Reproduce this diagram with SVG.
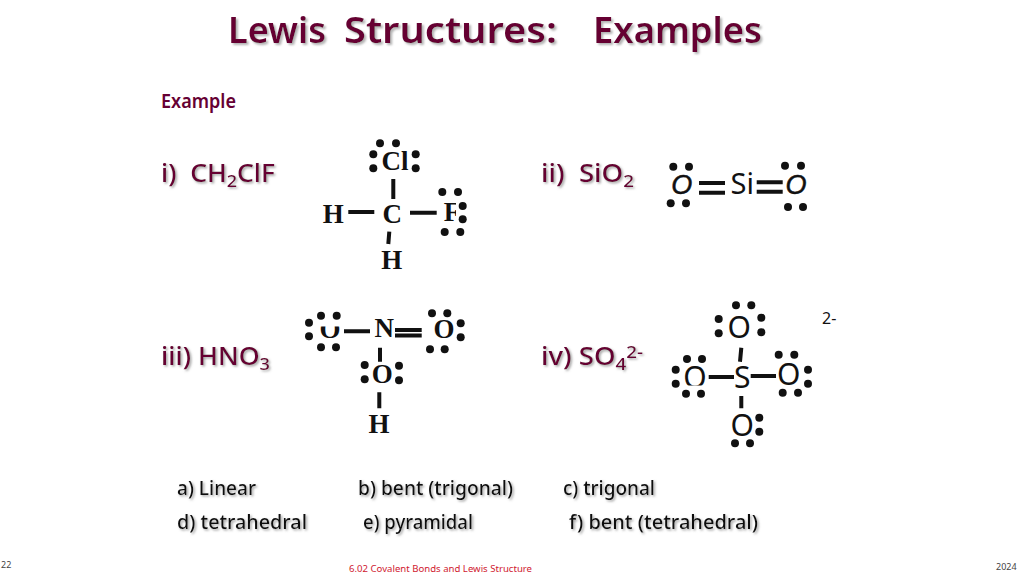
<svg xmlns="http://www.w3.org/2000/svg" width="1024" height="576" viewBox="0 0 1024 576">
<style>
text{font-family:"Noto Sans","DejaVu Sans",sans-serif}
.title{font-size:36px;font-weight:600;fill:#660033;filter:url(#sh)}
.head{font-size:19px;font-weight:600;fill:#660033}
.formula{font-size:25px;font-weight:500;fill:#660033;filter:url(#sh2)}
.ans{font-size:19px;font-weight:500;fill:#111;filter:url(#sh2)}
.foot{font-size:9px;fill:#444}
.ser{font-family:"Liberation Serif",serif;font-size:27px;font-weight:700;fill:#111;text-anchor:middle}
.san{font-family:"Noto Sans",sans-serif;font-size:30px;fill:#111;text-anchor:middle}
.ita{font-family:"Liberation Sans",sans-serif;font-size:27px;font-style:italic;stroke:#111;stroke-width:.5px;fill:#111;text-anchor:middle}
.dot{fill:#111}
.bond{stroke:#111;stroke-width:4;fill:none}
</style>
<defs>
<filter id="sh" x="-5%" y="-20%" width="110%" height="150%"><feDropShadow dx="2" dy="2" stdDeviation="1" flood-color="#aaa" flood-opacity="0.9"/></filter>
<filter id="sh2" x="-5%" y="-20%" width="110%" height="150%"><feDropShadow dx="1.5" dy="1.5" stdDeviation="0.8" flood-color="#999" flood-opacity="0.9"/></filter>
<clipPath id="clipF"><rect x="430" y="190" width="26" height="40"/></clipPath>
<clipPath id="clipU"><rect x="310" y="326.5" width="40" height="20"/></clipPath>
<clipPath id="clipOL"><rect x="675" y="360" width="40" height="25.5"/></clipPath>
</defs>
<rect width="1024" height="576" fill="#fff"/>

<g id="labels">
<text class="title" y="43"><tspan x="228" textLength="98" lengthAdjust="spacingAndGlyphs">Lewis</tspan> <tspan x="344" textLength="213" lengthAdjust="spacingAndGlyphs">Structures:</tspan> <tspan x="593" textLength="169" lengthAdjust="spacingAndGlyphs">Examples</tspan></text>
<text class="head" x="161" y="108" textLength="75" lengthAdjust="spacingAndGlyphs">Example</text>
<text class="formula" x="161" y="182" textLength="114" lengthAdjust="spacingAndGlyphs" xml:space="preserve">i)  CH<tspan font-size="17" dy="5">2</tspan><tspan dy="-5">ClF</tspan></text>
<text class="formula" x="541" y="182" textLength="93" lengthAdjust="spacingAndGlyphs" xml:space="preserve">ii)  SiO<tspan font-size="17" dy="5">2</tspan></text>
<text class="formula" x="161" y="365" textLength="109" lengthAdjust="spacingAndGlyphs">iii) HNO<tspan font-size="17" dy="5">3</tspan></text>
<text class="formula" x="541" y="365" textLength="102" lengthAdjust="spacingAndGlyphs">iv) SO<tspan font-size="17" dy="5">4</tspan><tspan font-size="17" dy="-12">2-</tspan></text>
<text class="ans" x="177" y="495" textLength="79" lengthAdjust="spacingAndGlyphs">a) Linear</text>
<text class="ans" x="358" y="495" textLength="155" lengthAdjust="spacingAndGlyphs">b) bent (trigonal)</text>
<text class="ans" x="563" y="495" textLength="92" lengthAdjust="spacingAndGlyphs">c) trigonal</text>
<text class="ans" x="177" y="529" textLength="130" lengthAdjust="spacingAndGlyphs">d) tetrahedral</text>
<text class="ans" x="363" y="529" textLength="110" lengthAdjust="spacingAndGlyphs">e) pyramidal</text>
<text class="ans" x="569" y="529" textLength="189" lengthAdjust="spacingAndGlyphs">f) bent (tetrahedral)</text>
<text x="822" y="324" font-size="16" fill="#111">2-</text>
<text class="foot" x="1" y="568">22</text>
<text class="foot" x="349" y="572" style="fill:#d02030" textLength="183" lengthAdjust="spacingAndGlyphs">6.02 Covalent Bonds and Lewis Structure</text>
<text class="foot" x="996" y="570">2024</text>
</g>

<g id="connectors">
<path class="bond" d="M393.3 179V199M348.3 212H374.3M410 212.7H436.7M389.3 231.7L388.3 244"/>
<path class="bond" d="M699 183H725M699 192.7H725M756.7 182.3H782.7M756.7 191.7H782.7"/>
<path class="bond" d="M344 331.3H370M395 330H421.7M395 335.5H421.7M380 347.7V361.7M379.3 392.3V408.3"/>
<path class="bond" d="M741.3 347.7L740 361.7M708.7 377H734M750.7 376H776M741.3 396V408.3"/>
</g>

<g id="ch2clf-cl"><text class="ser" x="395" y="170">Cl</text>
<circle class="dot" cx="380" cy="143.3" r="4"/><circle class="dot" cx="396" cy="143.3" r="4"/><circle class="dot" cx="373.3" cy="154.3" r="4"/><circle class="dot" cx="373.3" cy="168.3" r="4"/><circle class="dot" cx="415.7" cy="154.3" r="4"/><circle class="dot" cx="415.7" cy="168.3" r="4"/></g>
<g id="ch2clf-h1"><text class="ser" x="333.3" y="222.7">H</text></g>
<g id="ch2clf-c"><text class="ser" x="392.3" y="222.7">C</text></g>
<g id="ch2clf-f"><text class="ser" x="452" y="220.7" clip-path="url(#clipF)">F</text>
<circle class="dot" cx="442.3" cy="192" r="4"/><circle class="dot" cx="458" cy="192" r="4"/><circle class="dot" cx="462.7" cy="206" r="4"/><circle class="dot" cx="462.7" cy="219.3" r="4"/><circle class="dot" cx="444.7" cy="232" r="4"/><circle class="dot" cx="460.3" cy="232" r="4"/></g>
<g id="ch2clf-h2"><text class="ser" x="391.7" y="269.3">H</text></g>

<g id="sio2-o1"><text class="ita" x="681.7" y="194">O</text>
<circle class="dot" cx="673.3" cy="166.7" r="4"/><circle class="dot" cx="689" cy="166.7" r="4"/><circle class="dot" cx="670.7" cy="203.3" r="4"/><circle class="dot" cx="686" cy="203.3" r="4"/></g>
<g id="sio2-si"><text class="san" x="742.3" y="194" font-size="29" style="font-size:29px">Si</text></g>
<g id="sio2-o2"><text class="ita" x="796" y="194">O</text>
<circle class="dot" cx="785" cy="165.7" r="4"/><circle class="dot" cx="801" cy="165.7" r="4"/><circle class="dot" cx="788" cy="207" r="4"/><circle class="dot" cx="803" cy="207" r="4"/></g>

<g id="hno3-o1"><text class="ser" x="330" y="338.3" clip-path="url(#clipU)">O</text>
<circle class="dot" cx="321" cy="315.7" r="4"/><circle class="dot" cx="336.7" cy="315.7" r="4"/><circle class="dot" cx="309" cy="322.7" r="4"/><circle class="dot" cx="309" cy="336.3" r="4"/><circle class="dot" cx="321" cy="347.3" r="4"/><circle class="dot" cx="336" cy="347.3" r="4"/></g>
<g id="hno3-n"><text class="ser" x="384.3" y="336.7">N</text></g>
<g id="hno3-o2"><text class="ser" x="444" y="338.3">O</text>
<circle class="dot" cx="432" cy="313.3" r="4"/><circle class="dot" cx="447.3" cy="313.3" r="4"/><circle class="dot" cx="460.7" cy="323.3" r="4"/><circle class="dot" cx="460.7" cy="337.3" r="4"/><circle class="dot" cx="430" cy="349.3" r="4"/><circle class="dot" cx="444.7" cy="349.3" r="4"/></g>
<g id="hno3-o3"><text class="ser" x="382.3" y="383.3">O</text>
<circle class="dot" cx="364.7" cy="365" r="4"/><circle class="dot" cx="364.7" cy="379.3" r="4"/><circle class="dot" cx="399" cy="365.7" r="4"/><circle class="dot" cx="399" cy="380.3" r="4"/></g>
<g id="hno3-h"><text class="ser" x="379" y="433.3">H</text></g>

<g id="so4-o1"><text class="san" x="739.3" y="338.3">O</text>
<circle class="dot" cx="736" cy="305.3" r="4"/><circle class="dot" cx="751.3" cy="305.3" r="4"/><circle class="dot" cx="718.7" cy="319" r="4"/><circle class="dot" cx="718.7" cy="333.3" r="4"/><circle class="dot" cx="761.3" cy="317.7" r="4"/><circle class="dot" cx="761.3" cy="332.3" r="4"/></g>
<g id="so4-s"><text class="san" x="742.3" y="387.7">S</text></g>
<g id="so4-o2"><text class="san" x="695" y="388" clip-path="url(#clipOL)">O</text>
<circle class="dot" cx="687" cy="359" r="4"/><circle class="dot" cx="702" cy="359" r="4"/><circle class="dot" cx="675.7" cy="369.7" r="4"/><circle class="dot" cx="675.7" cy="383.7" r="4"/><circle class="dot" cx="686" cy="393.7" r="4"/><circle class="dot" cx="701" cy="393.7" r="4"/></g>
<g id="so4-o3"><text class="san" x="788.7" y="385">O</text>
<circle class="dot" cx="778.7" cy="354.7" r="4"/><circle class="dot" cx="794.3" cy="354.7" r="4"/><circle class="dot" cx="808" cy="369.7" r="4"/><circle class="dot" cx="808" cy="383.7" r="4"/><circle class="dot" cx="782.7" cy="392.7" r="4"/><circle class="dot" cx="798" cy="392.7" r="4"/></g>
<g id="so4-o4"><text class="san" x="742.3" y="435.7">O</text>
<circle class="dot" cx="759.3" cy="417.7" r="4"/><circle class="dot" cx="759.3" cy="431.7" r="4"/><circle class="dot" cx="735" cy="443.3" r="4"/><circle class="dot" cx="750" cy="443.3" r="4"/></g>
</svg>
